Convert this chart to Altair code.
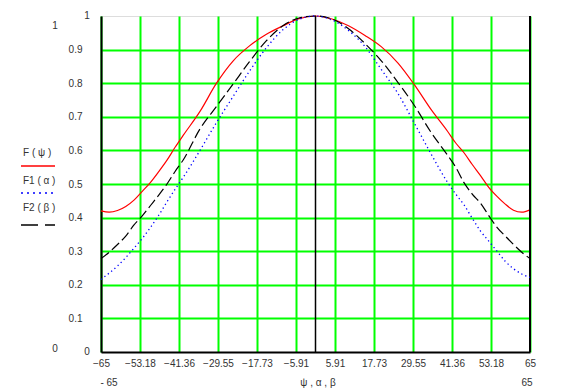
import altair as alt
import pandas as pd

# ---- data ----
angles = [-65, -62.5, -60, -57.5, -55, -52.5, -50, -47.5, -45, -42.5, -40, -35, -30, -25, -20,
          -15, -10, -5, 0, 5, 10, 15, 20, 25, 30, 35, 40, 42.5, 45, 47.5, 50, 52.5, 55,
          57.5, 60, 62.5, 65]
f_psi = [0.420, 0.416, 0.421, 0.433, 0.452, 0.478, 0.505, 0.537, 0.571, 0.610, 0.646, 0.716,
         0.800, 0.866, 0.911, 0.945, 0.970, 0.992, 1.0, 0.991, 0.971, 0.942, 0.908, 0.860,
         0.795, 0.722, 0.657, 0.622, 0.593, 0.558, 0.525, 0.490, 0.463, 0.440, 0.422, 0.416, 0.423]
f1_alpha = [0.216, 0.235, 0.256, 0.281, 0.309, 0.338, 0.371, 0.407, 0.447, 0.485, 0.521, 0.600,
            0.683, 0.760, 0.836, 0.904, 0.958, 0.990, 1.0, 0.988, 0.957, 0.909, 0.840, 0.769,
            0.680, 0.590, 0.505, 0.470, 0.438, 0.398, 0.360, 0.330, 0.300, 0.270, 0.248, 0.232, 0.222]
f2_beta = [0.278, 0.297, 0.320, 0.345, 0.378, 0.405, 0.436, 0.467, 0.500, 0.538, 0.573, 0.664,
           0.731, 0.797, 0.864, 0.925, 0.970, 0.994, 1.0, 0.991, 0.962, 0.918, 0.866, 0.802,
           0.733, 0.654, 0.586, 0.550, 0.504, 0.470, 0.443, 0.406, 0.371, 0.345, 0.320, 0.297, 0.278]
x_ticks = [-65, -53.18, -41.36, -29.55, -17.73, -5.91, 5.91, 17.73, 29.55, 41.36, 53.18, 65]
y_ticks = [0.1, 0.2, 0.3, 0.4, 0.5, 0.6, 0.7, 0.8, 0.9]
y_ends = [0, 1]
x_marker_lines = [0, 65]
legend_labels = ["F ( ψ )", "F1  ( α )", "F2    ( β )"]
x_label = "ψ , α , β"
x_min_label = "- 65"
x_max_label = "65"

FONT = "Liberation Sans"
FS = 10
TXT = "#333333"

df = pd.DataFrame({"angle": angles, "F": f_psi, "F1": f1_alpha, "F2": f2_beta})

xs = alt.Scale(domain=[-65, 65], nice=False, zero=False)
ys = alt.Scale(domain=[0, 1], nice=False, zero=False)

x_axis = alt.Axis(values=x_ticks, format=".4~g", grid=True, gridColor="#00ff00", gridWidth=2,
                  ticks=False, tickSize=0, labelPadding=6, domainColor="black", domainWidth=2,
                  labelFont=FONT, labelFontSize=FS, labelColor=TXT, title=None,
                  labelFlush=False, labelOverlap=False, labelBound=False)
y_axis = alt.Axis(values=y_ticks, format=".1f", grid=True, gridColor="#00ff00", gridWidth=2,
                  ticks=False, tickSize=0, labelPadding=19, domainColor="black", domainWidth=2,
                  labelFont=FONT, labelFontSize=FS, labelColor=TXT, title=None,
                  labelOverlap=False)


def X(field):
    return alt.X(field, scale=xs, axis=x_axis, title=None)


def Y(field):
    return alt.Y(field, scale=ys, axis=y_axis, title=None)


base = alt.Chart(df)

red = base.mark_line(color="#ff0000", strokeWidth=1.2, interpolate="monotone").encode(
    x=X("angle:Q"), y=Y("F:Q"))
blue = base.mark_line(color="#0000ff", strokeWidth=1.3, strokeDash=[1.3, 3],
                      interpolate="monotone").encode(x=X("angle:Q"), y=Y("F1:Q"))
black = base.mark_line(color="black", strokeWidth=1.2, strokeDash=[10, 4],
                       interpolate="monotone").encode(x=X("angle:Q"), y=Y("F2:Q"))

marker_lines = alt.Chart(pd.DataFrame({"x": x_marker_lines, "w": [1.5, 2]})).mark_rule(
    color="black").encode(x=X("x:Q"), strokeWidth=alt.StrokeWidth("w:Q", scale=None, legend=None))

end_labels = alt.Chart(pd.DataFrame({"v": y_ends, "t": [str(v) for v in y_ends]})).mark_text(
    font=FONT, fontSize=FS, color=TXT, align="center", baseline="middle").encode(
    x=alt.value(-14), y=Y("v:Q"), text="t:N")


def txt(s, x, y, align="center"):
    return alt.Chart(pd.DataFrame({"t": [s]})).mark_text(
        font=FONT, fontSize=FS, color=TXT, align=align, baseline="middle").encode(
        x=alt.value(x), y=alt.value(y), text="t:N")


def seg(x1, x2, y, color, dash=None, width=1.5):
    kw = dict(color=color, strokeWidth=width)
    if dash:
        kw["strokeDash"] = dash
    return alt.Chart(pd.DataFrame({"a": [0]})).mark_rule(**kw).encode(
        x=alt.value(x1), x2=alt.value(x2), y=alt.value(y))


extras = [
    txt("1", -46, 10),
    txt("0", -46, 333),
    txt(legend_labels[0], -78, 137, "left"),
    seg(-80, -46, 150, "#ff0000"),
    txt(legend_labels[1], -78, 165, "left"),
    seg(-80, -48, 177, "#0000ff", [2, 4], 1.5),
    txt(legend_labels[2], -78, 191.5, "left"),
    seg(-80, -46, 209, "black", [17, 7], 1.5),
    txt(x_min_label, 8, 367),
    txt(x_label, 217, 367),
    txt(x_max_label, 426, 367),
]

chart = alt.layer(red, marker_lines, black, blue, end_labels, *extras).properties(
    width=429, height=336,
    autosize=alt.AutoSizeParams(type="none"),
    padding={"left": 93, "top": 8, "right": 16, "bottom": 40},
).configure_view(stroke="black", strokeWidth=2).configure_axis(
    labelOverlap=False, labelFlush=False
).configure(background="white")

chart.save("out.html", embed_options={"renderer": "svg", "actions": False})
